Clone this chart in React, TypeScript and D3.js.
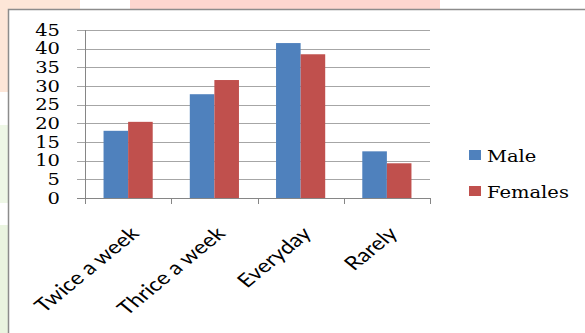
import * as d3 from 'd3';
import React, { useEffect, useRef } from 'react';

const WIDTH = 585;
const HEIGHT = 333;

const categories = ['Twice a week', 'Thrice a week', 'Everyday', 'Rarely'];
const seriesNames = ['Male', 'Females'];
const maleValues = [18.0, 27.8, 41.5, 12.5];
const femaleValues = [20.4, 31.6, 38.5, 9.3];
const yTicks = [0, 5, 10, 15, 20, 25, 30, 35, 40, 45];
const seriesColors = ['#4f81bd', '#c0504d'];

const SX = 1.22; // the reference is stretched horizontally, text too
const margin = { top: 30, left: 85, right: 155, bottom: 135 };

const App: React.FC = () => {
  const ref = useRef<SVGSVGElement>(null);

  useEffect(() => {
    const svg = d3.select(ref.current);
    svg.selectAll('*').remove();

    // pastel patches behind the chart frame
    const patches = [
      { x: 0, y: 0, w: 80, h: 9, c: '#fde6d8' },
      { x: 130, y: 0, w: 310, h: 9, c: '#fdd6cf' },
      { x: 0, y: 0, w: 8, h: 92, c: '#fde6d8' },
      { x: 0, y: 125, w: 8, h: 78, c: '#eef7e6' },
      { x: 0, y: 225, w: 8, h: 108, c: '#eaf4e0' },
    ];
    svg
      .selectAll('rect.patch')
      .data(patches)
      .enter()
      .append('rect')
      .attr('x', d => d.x)
      .attr('y', d => d.y)
      .attr('width', d => d.w)
      .attr('height', d => d.h)
      .attr('fill', d => d.c);

    svg
      .append('rect')
      .attr('x', 8.5)
      .attr('y', 9.5)
      .attr('width', 700)
      .attr('height', 400)
      .attr('fill', '#fff')
      .attr('stroke', '#8c8c8c')
      .attr('stroke-width', 1.5);

    const plotW = WIDTH - margin.left - margin.right;
    const plotH = HEIGHT - margin.top - margin.bottom;
    const g = svg.append('g').attr('transform', `translate(${margin.left},${margin.top})`);

    const x = d3.scaleBand().domain(categories).range([0, plotW]).paddingInner(0.43).paddingOuter(0.215);
    const xs = d3.scaleBand().domain(seriesNames).range([0, x.bandwidth()]);
    const y = d3.scaleLinear().domain([0, 45]).range([plotH, 0]);

    // gridlines
    g.selectAll('line.grid')
      .data(yTicks)
      .enter()
      .append('line')
      .attr('x1', -8)
      .attr('x2', plotW)
      .attr('y1', d => Math.round(y(d)) + 0.5)
      .attr('y2', d => Math.round(y(d)) + 0.5)
      .attr('stroke', d => (d === 0 ? '#868686' : '#a6a6a6'))
      .attr('stroke-width', 1);

    g.selectAll('text.ytick')
      .data(yTicks)
      .enter()
      .append('text')
      .attr('transform', d => `translate(-25,${y(d)}) scale(${SX},1)`)
      .attr('text-anchor', 'end')
      .attr('dy', '0.36em')
      .style('font-family', '"DejaVu Serif"')
      .style('font-size', '16px')
      .attr('fill', '#000')
      .text(d => d);

    // bars
    const rows = categories.map((c, i) => ({ c, vals: [maleValues[i], femaleValues[i]] }));
    g.selectAll('g.cat')
      .data(rows)
      .enter()
      .append('g')
      .attr('transform', d => `translate(${x(d.c)},0)`)
      .selectAll('rect')
      .data(d => d.vals.map((v, k) => ({ v, s: seriesNames[k], k })))
      .enter()
      .append('rect')
      .attr('x', d => xs(d.s) || 0)
      .attr('y', d => y(d.v))
      .attr('width', xs.bandwidth())
      .attr('height', d => plotH - y(d.v))
      .attr('fill', d => seriesColors[d.k]);

    // axes
    g.append('line')
      .attr('x1', 0.5)
      .attr('x2', 0.5)
      .attr('y1', 0)
      .attr('y2', plotH)
      .attr('stroke', '#868686');
    const step = x.step();
    const tickXs = d3.range(categories.length + 1).map(i => i * step);
    g.selectAll('line.xtick')
      .data(tickXs)
      .enter()
      .append('line')
      .attr('x1', d => Math.round(d) + 0.5)
      .attr('x2', d => Math.round(d) + 0.5)
      .attr('y1', plotH)
      .attr('y2', plotH + 6)
      .attr('stroke', '#868686');

    g.selectAll('text.xlab')
      .data(categories)
      .enter()
      .append('text')
      .attr('transform', d => `translate(${(x(d) || 0) + x.bandwidth() / 2 - 1},${plotH + 26}) scale(${SX},1) rotate(-45)`)
      .attr('text-anchor', 'end')
      .attr('dy', '0.8em')
      .style('font-family', 'Lato')
      .style('font-size', '19px')
      .attr('fill', '#000')
      .text(d => d);

    // legend
    const legend = svg.append('g').attr('transform', 'translate(469,150)');
    seriesNames.forEach((s, i) => {
      const row = legend.append('g').attr('transform', `translate(0,${i * 36})`);
      row.append('rect').attr('width', 12).attr('height', 10).attr('fill', seriesColors[i]);
      row
        .append('text')
        .attr('transform', `translate(18,12) scale(${SX},1)`)
        .style('font-family', '"DejaVu Serif"')
        .style('font-size', '16px')
        .attr('fill', '#000')
        .text(s);
    });
  }, []);

  return (
    <svg
      ref={ref}
      width={WIDTH}
      height={HEIGHT}
      style={{ position: 'absolute', left: 0, top: 0, background: '#fff' }}
    />
  );
};

export default App;
